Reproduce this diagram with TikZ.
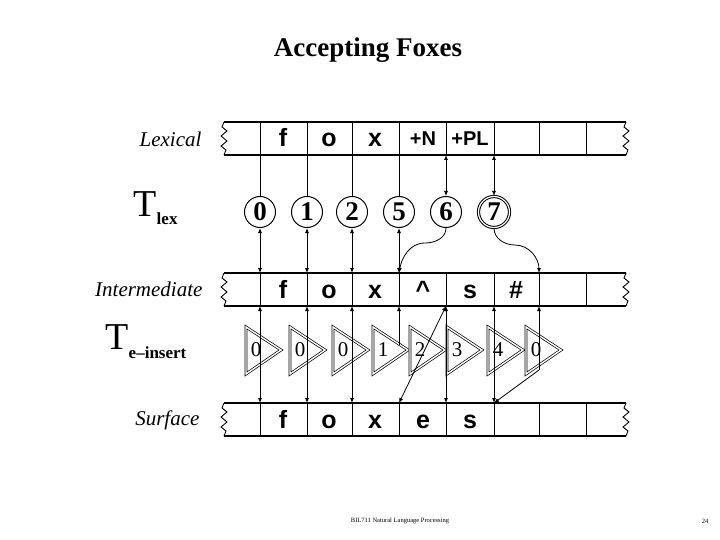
\documentclass[tikz,border=0pt]{standalone}
\usepackage{fontspec}
\setmainfont{Liberation Serif}
\newfontfamily\tapefont{Liberation Sans}
\usetikzlibrary{arrows.meta}
\begin{document}
\begin{tikzpicture}[x=1pt,y=-1pt,
  tape/.style={line width=1.2pt},
  cell/.style={anchor=base,font=\tapefont\bfseries\fontsize{25}{25}\selectfont},
  st/.style={circle,draw,line width=1pt,minimum size=31pt,inner sep=0pt,font=\bfseries\fontsize{27}{27}\selectfont},
  conn/.style={line width=0.8pt,{Latex[length=5pt,width=4pt]}-{Latex[length=5pt,width=4pt]}},
  lab/.style={font=\itshape\fontsize{21}{21}\selectfont,anchor=east},
  tri/.style={double,line width=0.7pt,double distance=1.4pt}]
\useasboundingbox (0,0) rectangle (720,540);
\node[font=\bfseries\fontsize{27}{27}\selectfont] (title) at (368,50) {Accepting Foxes};
\node[font=\fontsize{6.5}{6.5}\selectfont] (foot) at (400,521) {BIL711 Natural Language Processing};
\node[font=\fontsize{6.5}{6.5}\selectfont] (pg) at (705,521) {24};
% tapes
\foreach \t/\y in {lex/122,int/273,sur/403}{
  \pgfmathsetmacro{\yb}{\y+33}
  \draw[tape] (224,\y) -- (626,\y);
  \draw[tape] (224,\yb) -- (626,\yb);
  \draw[line width=0.9pt] (224,\y) -- (222,\y+5) -- (227,\y+9) -- (221,\y+14) -- (227,\y+19) -- (221,\y+24) -- (226,\y+28) -- (224,\yb);
  \draw[line width=0.9pt] (626,\y) -- (624,\y+5) -- (629,\y+9) -- (623,\y+14) -- (629,\y+19) -- (623,\y+24) -- (628,\y+28) -- (626,\yb);
  \foreach \x in {260,307,352,399,446,494,539,586} \draw[line width=0.9pt] (\x,\y) -- (\x,\yb);
  \foreach \i/\x in {0/260,1/307,2/352,3/399,4/446,5/494,6/539,7/586} \coordinate (\t top\i) at (\x,\y);
  \foreach \i/\x in {0/260,1/307,2/352,3/399,4/446,5/494,6/539,7/586} \coordinate (\t bot\i) at (\x,\yb);
}
\foreach \c/\x in {f/283,o/329,x/375}{
  \node[cell] at (\x,147) {\c}; \node[cell] at (\x,298) {\c}; \node[cell] at (\x,428) {\c};}
\node[cell,font=\tapefont\bfseries\fontsize{20}{20}\selectfont] at (423,146) {+N};
\node[cell,font=\tapefont\bfseries\fontsize{20}{20}\selectfont] at (470,146) {+PL};
\node[cell] at (423,298) {\^{}};
\node[cell] at (470,298) {s};
\node[cell] at (516,298) {\#};
\node[cell] at (423,428) {e};
\node[cell] at (470,428) {s};
% labels
\node[lab] (l1) at (205,139) {Lexical};
\node[lab] (l2) at (206,289) {Intermediate};
\node[lab] (l3) at (203,420) {Surface};
\node[font=\fontsize{38}{38}\selectfont,anchor=west] (tl) at (130,208) {T\raisebox{-0.5ex}{\fontsize{17}{17}\selectfont\bfseries lex}};
\node[font=\fontsize{38}{38}\selectfont,anchor=west] (te) at (102,342) {T\raisebox{-0.5ex}{\fontsize{17}{17}\selectfont\bfseries e\textendash insert}};
% states
\foreach \i/\n/\x in {0/0/260,1/1/307,2/2/352,3/5/399,4/6/446}
  \node[st] (s\i) at (\x,212) {\n};
\node[st,double,line width=1pt,double distance=1.2pt] (s5) at (494,212) {7};
\foreach \i in {0,1,2,3}{
  \draw[conn] (lexbot\i) -- (s\i) -- (inttop\i);}
\draw[conn] (lexbot4) -- (s4.north);
\draw[conn] (lexbot5) -- (s5.north);
\draw[line width=0.8pt,-{Latex[length=5pt,width=4pt]}] (s4.south) to[out=-90,in=0] (425,243) to[out=180,in=80] (inttop3);
\draw[line width=0.8pt,-{Latex[length=5pt,width=4pt]}] (s5.south) to[out=-90,in=180] (515,245) to[out=0,in=90] (inttop6);
% triangles
\foreach \i/\n/\L in {0/0/246,1/0/290,2/0/333,3/1/373,4/2/410,5/3/447,6/4/488,7/0/526}{
  \draw[tri] (\L,327) -- (\L+35,350) -- (\L,374) -- cycle;
  \node[font=\fontsize{21}{21}\selectfont,inner sep=0pt] (t\i) at (\L+10,350) {\n};
}
\draw[conn] (intbot0) -- (surtop0);
\draw[conn] (intbot1) -- (surtop1);
\draw[conn] (intbot2) -- (surtop2);
\draw[line width=0.8pt,{Latex[length=5pt,width=4pt]}-] (intbot3) -- (399,345);
\draw[conn] (intbot4) -- (surtop3);
\draw[conn] (intbot4) -- (surtop4);
\draw[conn] (intbot5) -- (surtop5);
\draw[line width=0.8pt,{Latex[length=5pt,width=4pt]}-] (intbot6) -- (539,370);
\draw[line width=0.8pt,-{Latex[length=5pt,width=4pt]}] (539,370) -- (surtop5);
\end{tikzpicture}
\end{document}
